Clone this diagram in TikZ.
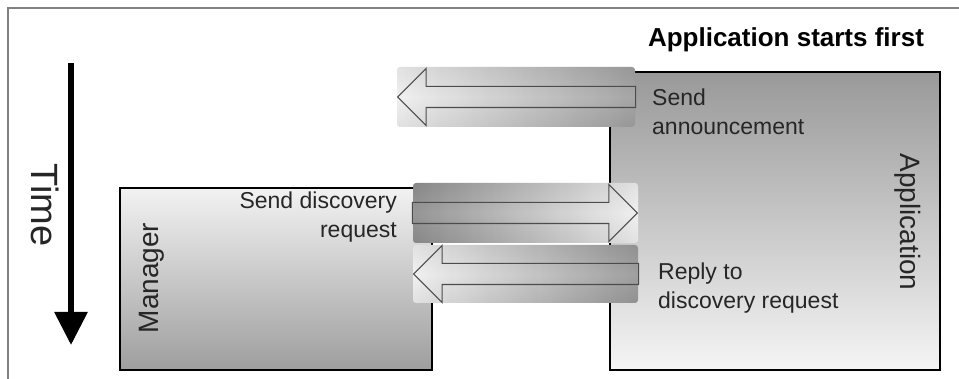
\documentclass[tikz,border=0pt]{standalone}
\usepackage{fontspec}
\setmainfont{Liberation Sans}
\usetikzlibrary{arrows.meta,shapes.arrows,positioning}

\begin{document}
\begin{tikzpicture}[x=1pt,y=-1pt,
    box/.style={draw=black, line width=2pt, inner sep=0pt},
    band/.style={inner sep=0pt, rounded corners=3pt,
        path picture={\fill[top color=black, bottom color=black, middle color=white, opacity=0.06]
            (path picture bounding box.south west) rectangle (path picture bounding box.north east);}},
    blockarrow/.style={single arrow, draw=black!70, line width=1.1pt, inner sep=0pt, inner ysep=10pt,
        single arrow head extend=18pt, single arrow tip angle=90, minimum width=0pt},
    msg/.style={font=\fontsize{23}{29}\selectfont, text=black!85, inner sep=0pt}]
  \useasboundingbox (0,0) rectangle (959,379);
  \draw[black!50, line width=2pt] (8,379) -- (8,8) -- (959,8);

  % the two parties
  \node[box, top color=black!40, bottom color=black!4, minimum width=330pt, minimum height=298pt] (app) at (775,221) {};
  \node[box, top color=black!5, bottom color=black!38, minimum width=312pt, minimum height=182pt] (mgr) at (276,279) {};
  \node[font=\bfseries\fontsize{26}{30}\selectfont] (title) at (786,40) {Application starts first};
  \node[rotate=-90, font=\fontsize{28}{30}\selectfont, text=black!85] (applbl) at (908,222) {Application};
  \node[rotate=90, font=\fontsize{28}{30}\selectfont, text=black!85] (mgrlbl) at (152,278) {Manager};

  % time axis
  \coordinate (t0) at (71,63);
  \coordinate (t1) at (71,345);
  \draw[line width=6pt, -{Triangle[length=33pt,width=32pt]}] (t0) -- (t1);
  \node[rotate=-90, font=\fontsize{38}{40}\selectfont, text=black!85] (time) at (45,205) {Time};

  % messages
  \node[band, left color=white, right color=black!33, minimum width=238pt, minimum height=60pt] (b1) at (516,97) {};
  \node[band, left color=black!40, right color=white, minimum width=225pt, minimum height=60pt] (b2) at (525.5,213) {};
  \node[band, left color=white, right color=black!36, minimum width=225pt, minimum height=58pt] (b3) at (525.5,274) {};

  \node[blockarrow, shape border rotate=180, minimum height=238pt, anchor=tip] (a1) at (b1.west) {};
  \node[blockarrow, minimum height=225pt, anchor=tip] (a2) at (b2.east) {};
  \node[blockarrow, shape border rotate=180, minimum height=225pt, anchor=tip] (a3) at (b3.west) {};

  \node[msg, align=left, anchor=west] (ann) at (652,112) {Send\\announcement};
  \node[msg, align=right, anchor=east] (req) at (397,217) {Send discovery\\request};
  \node[msg, align=left, anchor=west] (rep) at (658,288) {Reply to\\discovery request};
\end{tikzpicture}
\end{document}
